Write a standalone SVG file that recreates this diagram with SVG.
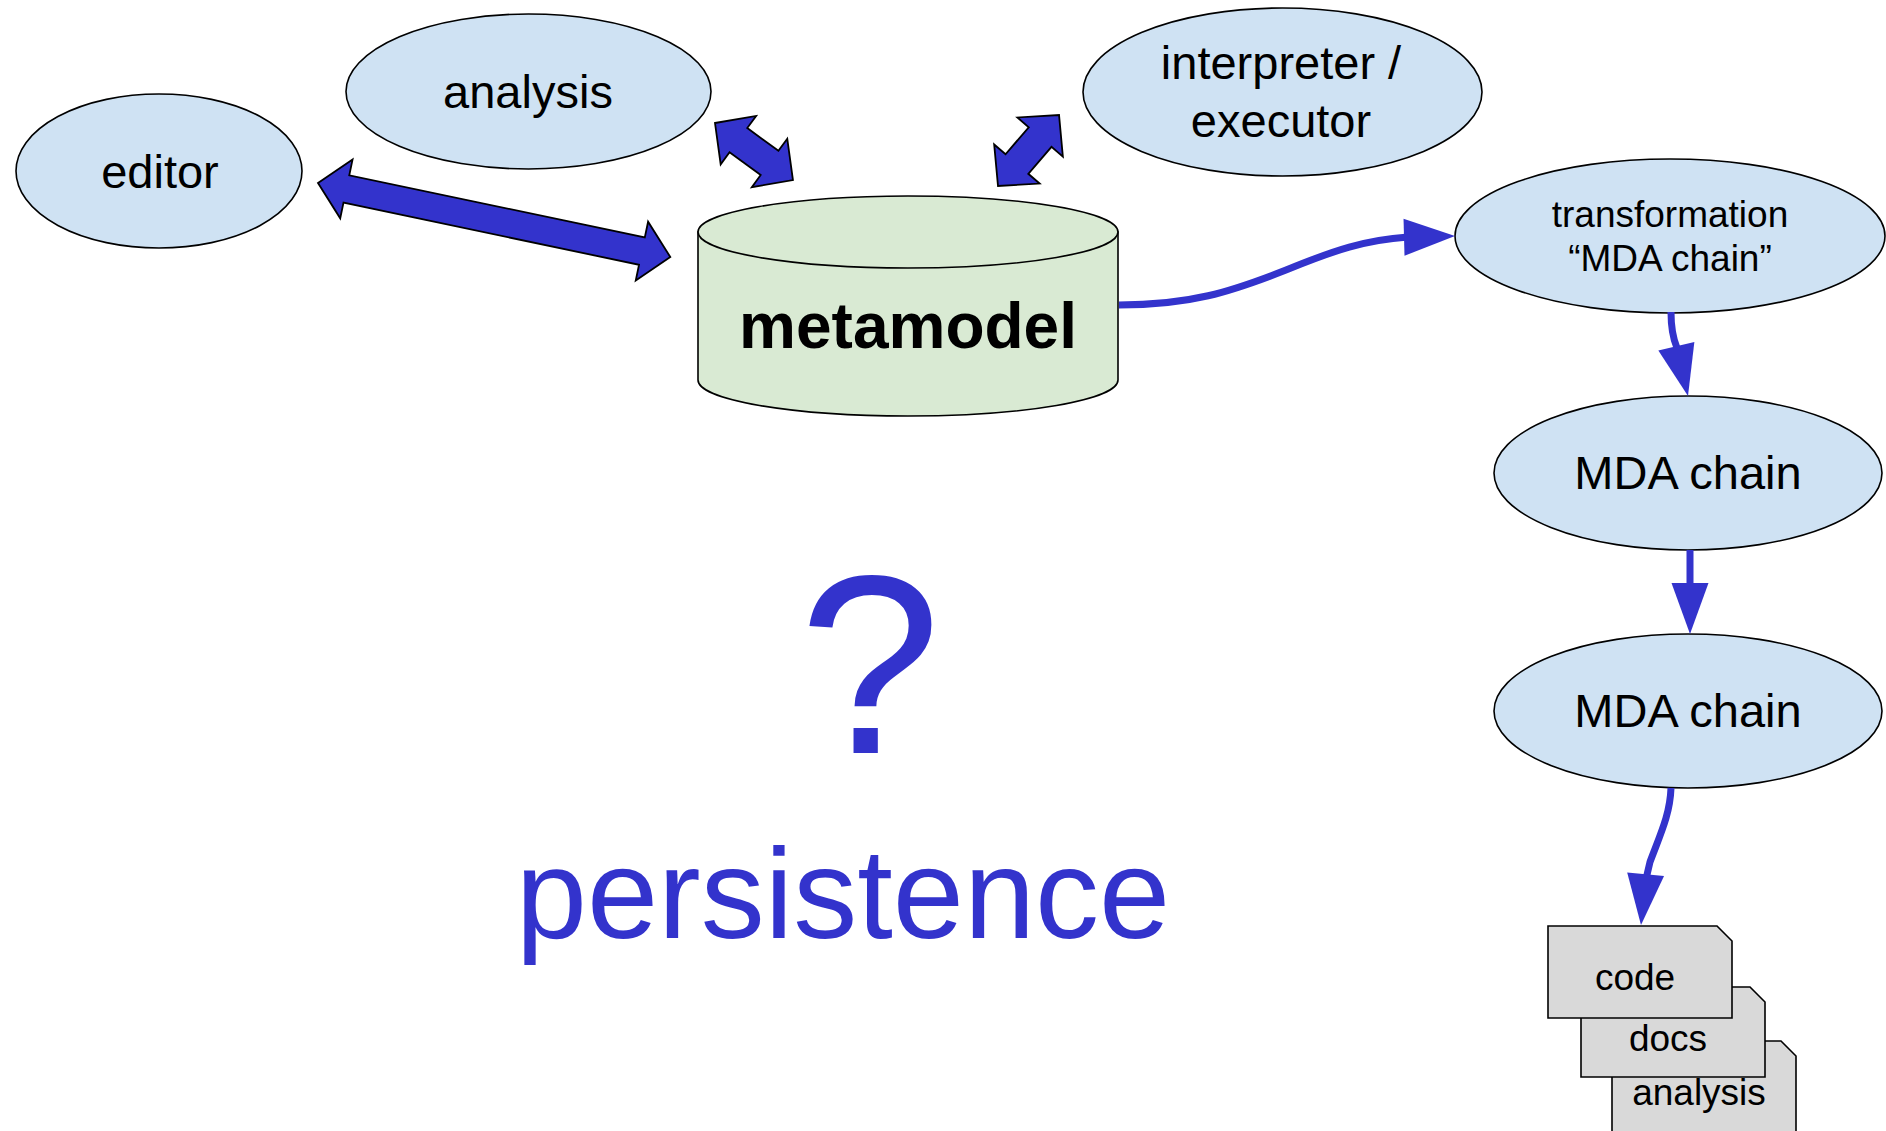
<svg xmlns="http://www.w3.org/2000/svg" xmlns:xlink="http://www.w3.org/1999/xlink" width="1886" height="1131" viewBox="0 0 1886 1131">
<style>
.node{fill:#cfe2f3;stroke:#000;stroke-width:1.6}
.cyl{fill:#d9ead3;stroke:#000;stroke-width:1.6}
.doc{fill:#d9d9d9;stroke:#000;stroke-width:1.6}
.lbl{font-family:"Liberation Sans",Arial,sans-serif;fill:#000;text-anchor:middle}
.big{font-size:47px}
.small{font-size:37px}
.wire{fill:none;stroke:#3333cc;stroke-width:7}
.head{fill:#3333cc;stroke:none}
.dbl{fill:#3333cc;stroke:#000;stroke-width:1.8;stroke-linejoin:miter}
.blue{font-family:"Liberation Sans",Arial,sans-serif;fill:#3333cc;text-anchor:middle}
</style>
<defs>
<polygon id="ah" points="0,0 -51,-18.5 -51,18.5"/>
</defs>
<rect width="1886" height="1131" fill="#fff"/>

<g id="editor">
<ellipse class="node" cx="159" cy="171" rx="143" ry="77"/>
<text class="lbl big" x="160" y="188">editor</text>
</g>
<g id="analysis">
<ellipse class="node" cx="528.5" cy="91.5" rx="182.5" ry="77.5"/>
<text class="lbl big" x="528" y="108">analysis</text>
</g>
<g id="interpreter">
<ellipse class="node" cx="1282.5" cy="92" rx="199.5" ry="84"/>
<text class="lbl big" x="1281" y="79">interpreter /</text>
<text class="lbl big" x="1281" y="137">executor</text>
</g>
<g id="metamodel">
<path class="cyl" d="M698,232 V380 A210,36 0 0 0 1118,380 V232 Z"/>
<ellipse class="cyl" cx="908" cy="232" rx="210" ry="36"/>
<text class="lbl" x="908" y="348" style="font-size:64px;font-weight:bold">metamodel</text>
</g>
<g id="transformation">
<ellipse class="node" cx="1670" cy="236" rx="215" ry="77"/>
<text class="lbl small" x="1670" y="227">transformation</text>
<text class="lbl small" x="1670" y="271">“MDA chain”</text>
</g>
<g id="mda1">
<ellipse class="node" cx="1688" cy="473" rx="194" ry="77"/>
<text class="lbl big" x="1688" y="489">MDA chain</text>
</g>
<g id="mda2">
<ellipse class="node" cx="1688" cy="711" rx="194" ry="77"/>
<text class="lbl big" x="1688" y="727">MDA chain</text>
</g>
<g id="docs-analysis">
<path class="doc" d="M1612,1041 H1781 L1796,1056 V1140 H1612 Z"/>
<text class="lbl small" x="1699" y="1105">analysis</text>
</g>
<g id="docs">
<path class="doc" d="M1581,987 H1750 L1765,1002 V1077 H1581 Z"/>
<text class="lbl small" x="1668" y="1051">docs</text>
</g>
<g id="code">
<path class="doc" d="M1548,926 H1717 L1732,941 V1018 H1548 Z"/>
<text class="lbl small" x="1635" y="990">code</text>
</g>

<g id="connectors">
<polygon class="dbl" transform="translate(318,183) rotate(11.87)" points="0,0 29,-30 29,-14 331,-14 331,-30 360,0 331,30 331,14 29,14 29,30"/>
<polygon class="dbl" transform="translate(715,123) rotate(36.2)" points="0,0 29,-30 29,-15 67.6,-15 67.6,-30 96.6,0 67.6,30 67.6,15 29,15 29,30"/>
<polygon class="dbl" transform="translate(998,186) rotate(-49.3)" points="0,0 29,-30 29,-15 64.6,-15 64.6,-30 93.6,0 64.6,30 64.6,15 29,15 29,30"/>
<path class="wire" d="M1119,305 C1190,305 1230,292 1286,270 C1335,250 1365,240 1408,237"/>
<use href="#ah" class="head" transform="translate(1455,236) rotate(-1.5)"/>
<path class="wire" d="M1671,312 C1671,325 1672,336 1677,348"/>
<use href="#ah" class="head" transform="translate(1688,396) rotate(76.8)"/>
<path class="wire" d="M1690,550 L1690,586"/>
<use href="#ah" class="head" transform="translate(1690,634) rotate(90)"/>
<path class="wire" d="M1671,788 C1670,815 1660,835 1650,862 L1646,879"/>
<use href="#ah" class="head" transform="translate(1641,925) rotate(95.2)"/>
</g>

<g id="persistence-label">
<text class="blue" x="870" y="753" style="font-size:255px">?</text>
<text class="blue" x="843" y="938" style="font-size:128px">persistence</text>
</g>
</svg>
